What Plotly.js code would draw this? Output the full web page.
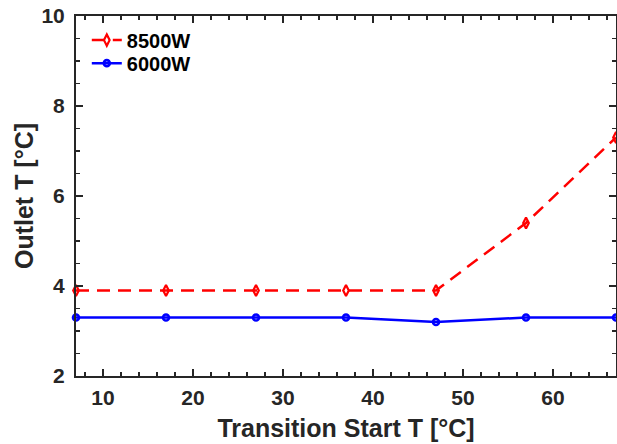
<!DOCTYPE html>
<html>
<head>
<meta charset="utf-8">
<script src="https://cdn.plot.ly/plotly-3.0.1.min.js"></script>
<style>html,body{margin:0;padding:0;background:#fff;}#chart{width:617px;height:444px;}</style>
</head>
<body>
<div id="chart"></div>
<script>
var transitionStart = [7, 17, 27, 37, 47, 57, 67];
var outlet8500 = [3.9, 3.9, 3.9, 3.9, 3.9, 5.4, 7.3];
var outlet6000 = [3.3, 3.3, 3.3, 3.3, 3.2, 3.3, 3.3];
var seriesNames = ['8500W', '6000W'];

var FONT = 'Liberation Sans, Arial, sans-serif';
var traces = [
  {
    x: transitionStart, y: outlet8500, name: seriesNames[0],
    type: 'scatter', mode: 'lines+markers', legend: 'legend',
    line: {color: '#ff0000', width: 2.5, dash: '13px,8px'},
    marker: {symbol: 'diamond-tall-open', size: 8, color: '#ff0000', line: {width: 2.2, color: '#ff0000'}},
    cliponaxis: false
  },
  {
    x: transitionStart, y: outlet6000, name: seriesNames[1],
    type: 'scatter', mode: 'lines+markers', legend: 'legend2',
    line: {color: '#0000ff', width: 2.5},
    marker: {symbol: 'circle-open', size: 6, color: '#0000ff', line: {width: 2.6, color: '#0000ff'}},
    cliponaxis: false
  }
];

var legendFont = {family: FONT, size: 20, color: '#000000', weight: 'bold'};
var layout = {
  width: 617, height: 444,
  margin: {l: 76, r: 1, t: 16, b: 68},
  paper_bgcolor: '#ffffff', plot_bgcolor: '#ffffff',
  font: {family: FONT, color: '#262626', size: 20, weight: 'bold'},
  showlegend: true,
  legend: {
    x: 0.02, y: 0.933, xanchor: 'left', yanchor: 'middle',
    bgcolor: 'rgba(0,0,0,0)', borderwidth: 0, font: legendFont
  },
  legend2: {
    x: 0.02, y: 0.869, xanchor: 'left', yanchor: 'middle',
    bgcolor: 'rgba(0,0,0,0)', borderwidth: 0, font: legendFont
  },
  xaxis: {
    range: [7, 67], dtick: 10, tick0: 0,
    ticks: 'inside', ticklen: 7, tickwidth: 1.5, tickcolor: '#262626',
    showline: true, linecolor: '#262626', linewidth: 2, mirror: 'ticks',
    showgrid: false, zeroline: false, ticklabelstandoff: 2,
    tickfont: {family: FONT, size: 21, color: '#262626', weight: 'bold'},
    minor: {ticks: 'inside', ticklen: 4, tickwidth: 1.5, tickcolor: '#262626', dtick: 2, tick0: 0, showgrid: false},
    title: {text: 'Transition Start T [°C]', font: {family: FONT, size: 25, color: '#262626', weight: 'bold'}, standoff: 11}
  },
  yaxis: {
    range: [2, 10], dtick: 2, tick0: 0,
    ticks: 'inside', ticklen: 7, tickwidth: 1.5, tickcolor: '#262626',
    showline: true, linecolor: '#262626', linewidth: 2, mirror: 'ticks',
    showgrid: false, zeroline: false, ticklabelstandoff: 5,
    tickfont: {family: FONT, size: 21, color: '#262626', weight: 'bold'},
    minor: {ticks: 'inside', ticklen: 4, tickwidth: 1.5, tickcolor: '#262626', dtick: 0.5, tick0: 0, showgrid: false},
    title: {text: 'Outlet T [°C]', font: {family: FONT, size: 25, color: '#262626', weight: 'bold'}, standoff: 1}
  }
};

Plotly.newPlot('chart', traces, layout, {displayModeBar: false, staticPlot: true});
</script>
</body>
</html>
